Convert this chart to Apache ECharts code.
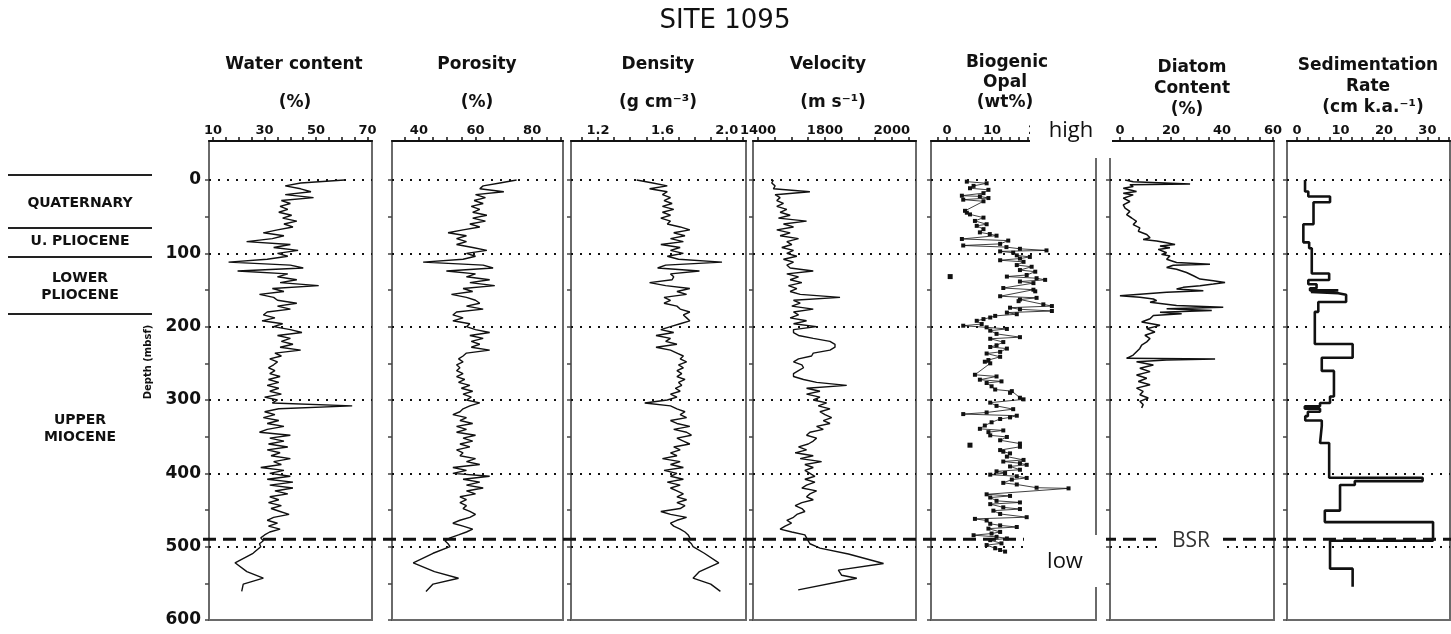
<!DOCTYPE html>
<html>
<head>
<meta charset="utf-8">
<script src="https://cdn.jsdelivr.net/npm/echarts@6/dist/echarts.min.js"></script>
<style>
  html, body { margin: 0; padding: 0; background: #fff; }
  #chart { width: 1451px; height: 634px; }
</style>
</head>
<body>
<div id="chart"></div>
<script>
// ---- Site 1095 downhole logs (depth in mbsf) ----

// sampling depths of the continuous physical-property logs
const coreDepth = [0,4,8,12,16,20,24,28,32,36,40,44,48,52,56,60,64,68,72,76,80,84,88,92,96,100,104,108,112,116,120,124,128,132,136,140,144,148,152,156,160,164,168,172,176,180,184,188,192,196,200,204,208,212,216,220,224,228,232,236,240,244,248,252,256,260,264,268,272,276,280,284,288,292,296,300,304,308,312,316,320,324,328,332,336,340,344,348,352,356,360,364,368,372,376,380,384,388,392,396,400,404,408,412,416,420,424,428,432,436,440,444,448,452,456,460,464,468,472,476,480,484,488,492,496,500];

// water content (%)
const waterContent = [61,44,38,44,48,38,49,36.5,40,36,
  39,35.5,40.5,37,42.5,37.5,41,35,29.5,37.5,
  33,23,40,33.5,43,35,39,31,16,40,
  45,19.5,39,35,42.5,36,51,33,37.5,28,
  33.5,35,42.5,35,40,31,29.5,34,29,37,
  33.5,40,44.5,35,40,36.5,41,36,44,34,
  36.5,32,35,33.5,31.5,34,32,36,31.5,35.5,
  31,35.5,32,36.5,30,35,33,64,35.5,30,
  34,29.5,35.5,31,37.5,31,28,40,32,37.5,
  31.5,39,31,36,32.5,40,33.5,36.5,28.5,37.5,
  32,40,31,41,32,41,34,39,32,35.5,
  31.5,36.5,32.5,36,39.5,33.5,31,35,31.5,36,
  32,30,28.5,29.5,28,28.5];

// porosity (%)
const porosity = [74.5,68.6,62.7,61.5,70,60,63.5,59.5,62.7,58.5,
  61.5,59,64,59,63.5,58,61.5,55.6,50.3,56.8,
  53.3,56.8,53.3,59,64,56.8,60,55.6,41.5,62.7,
  66.2,49.7,60,56.8,65,58,66.8,55.6,59,51.5,
  56.8,60,61.5,56.8,62.7,53.3,52,55.6,52,58,
  56.8,60,65,58,62.7,58.5,61.5,58.5,65,56.8,
  55.6,54,55.6,53.3,54.5,53.3,55.6,53.3,56.2,54,
  58,55,59,55.6,58.5,56.8,61.5,58,55.6,54.5,
  52,56.8,54.5,59,53.3,56.8,53.3,60,55.6,59,
  54.5,58,53.3,55.6,54.5,60,56.8,61.5,52,56.8,
  52,65,55.6,61.5,56.8,62.7,56.8,60,54.5,56.8,
  54.5,56.8,55.6,58,60,58,54.5,52,55.6,59,
  56.8,54,51,49.2,50.3,51];

// bulk density (g cm-3)
const density = [1.44,1.54,1.63,1.52,1.63,1.60,1.65,1.61,1.66,1.60,
  1.67,1.60,1.65,1.59,1.65,1.63,1.71,1.77,1.67,1.74,
  1.65,1.73,1.59,1.71,1.65,1.73,1.63,1.70,1.97,1.62,
  1.57,1.83,1.65,1.67,1.66,1.52,1.62,1.77,1.69,1.75,
  1.61,1.65,1.61,1.69,1.71,1.77,1.73,1.75,1.77,1.71,
  1.65,1.59,1.67,1.56,1.65,1.62,1.69,1.56,1.65,1.69,
  1.73,1.71,1.75,1.70,1.73,1.69,1.72,1.69,1.74,1.70,
  1.72,1.68,1.71,1.65,1.69,1.63,1.49,1.65,1.69,1.74,
  1.71,1.75,1.65,1.69,1.77,1.67,1.75,1.78,1.69,1.73,
  1.77,1.67,1.71,1.65,1.69,1.60,1.71,1.65,1.73,1.61,
  1.69,1.65,1.73,1.63,1.71,1.65,1.69,1.73,1.69,1.75,
  1.69,1.74,1.71,1.59,1.65,1.75,1.69,1.65,1.67,1.71,
  1.74,1.76,1.77,1.76,1.78,1.79];

// P-wave velocity (m s-1)
const velocity = [1646,1641,1651,1646,1755,1651,1666,1656,1676,1656,
  1686,1666,1696,1661,1745,1676,1706,1656,1696,1666,
  1721,1686,1701,1671,1706,1686,1716,1676,1706,1686,
  1696,1765,1686,1721,1696,1731,1691,1716,1696,1726,
  1845,1706,1726,1701,1765,1706,1721,1696,1745,1706,
  1775,1706,1706,1721,1765,1815,1830,1830,1815,1765,
  1760,1721,1706,1731,1736,1721,1706,1706,1736,1775,
  1865,1745,1785,1745,1785,1765,1805,1780,1815,1785,
  1800,1820,1795,1815,1775,1795,1755,1745,1775,1765,
  1750,1721,1745,1711,1765,1726,1790,1740,1765,1740,
  1755,1770,1740,1770,1745,1731,1775,1755,1745,1765,
  1731,1711,1731,1740,1716,1706,1686,1700,1681,1666,
  1701,1740,1745,1750,1755,1775];

// deeper, sparser measurements below 500 mbsf
const deepDepth = [509,522,534,543,551,561];
const waterDeep = [25.5,18.5,23.1,29.5,21.7,21.1];
const porosityDeep = [45,38,45.5,54,45,42.5];
const densityDeep = [1.86,1.95,1.83,1.79,1.90,1.96];
const velocityDeepDepth = [502,510,523,532,539,543,559];
const velocityDeep = [1785,1870,1975,1840,1850,1895,1720];

// biogenic opal (wt%)
const opalDepth = [2.2,4.5,8,11.2,13.4,17.9,21.4,22.3,24.6,26.8,29,
  42,44.6,46.9,51.3,55.8,60.3,62.5,67,71.4,73.7,75.9,80.4,82.6,87.1,89.3,91.5,93.8,96,97.3,99.1,102.7,104.9,107.1,
  109.4,111.6,116,118.3,122.8,125,129.5,131.7,133.9,136.2,138.4,140.6,
  147.3,149.6,151.8,158.5,160.7,162.9,165.2,169.6,171.9,174.1,176.3,178.6,180.8,183,185.3,187.5,189.7,192,196.4,198.7,200.9,203.1,205.4,209.8,214.3,216.5,221,225.4,227.7,229.9,234.4,236.6,241.1,245.5,247.8,250,
  265.6,267.9,272.3,274.6,276.8,281.3,285.7,287.9,290.2,296.9,299.1,303.6,308,312.5,317,319.2,321.4,323.7,325.9,330.4,334.8,339.3,341.5,343.8,348.2,350.4,354.9,359.4,363.8,
  368.3,370.5,372.8,377.2,381.7,383.9,386.2,388.4,390.6,395.1,397.3,399.6,401.8,404,406.3,408.5,413,415.2,419.6,420.5,428.6,430.8,433,437.5,439.7,442,446.4,448.7,450.9,455.4,459.8,462.1,464.3,468.8,471,473.2,475.4,479.9,482.1,484.4,486.6,488.8,491.1,495.5,497.8,502.2,504.5,506.7];
const opalValue = [4.4,8.8,5.9,5.1,9.2,8.1,3.3,7.3,9.2,3.6,8.1,
  4.0,4.4,5.1,8.1,6.2,8.8,6.6,8.1,7.3,9.5,11,3.3,13.6,11.8,3.6,13.2,16.2,22.1,11.8,14.7,15.5,18.4,16.2,
  11.8,17,15.5,18.8,16.2,19.6,17.7,13.3,19.9,21.8,16.2,19.2,
  12.5,19.2,19.6,11.8,19.9,16.2,15.9,21.4,23.3,14,16.2,23.3,13.3,15.5,10.7,9.6,8.1,6.6,7.7,3.6,8.8,13.3,9.6,11,16.2,9.6,12.5,11,9.6,13.3,11.8,8.8,11.8,9.2,8.4,9.6,
  6.2,11,7.3,12.1,8.8,9.9,10.7,14.4,14,16.2,17,9.6,11,14.7,8.8,3.6,15.5,14,11.8,9.9,8.4,7.3,12.5,9.2,9.6,13.3,11.8,16.2,16.2,
  11.8,12.5,14,13.3,17,12.5,16.2,17.7,14,16.2,11,12.9,9.6,15.5,17.7,14.4,12.5,15.5,19.9,27,8.8,14,9.6,11,16.2,9.6,12.5,16.2,10.3,11.8,17.7,6.2,8.8,9.6,11.8,15.5,9.2,11.8,9.9,5.9,11,13.3,9.6,12.1,8.8,10.7,11.8,12.9];
const opalSingleDepth = [131.7,361.6];
const opalSingleValue = [0.7,5.1];

// diatom content (%)
const diatomDepth = [0,2.3,5.4,6.3,9,11.3,15.8,18,20.3,24.8,29.3,33.8,38.3,42.8,47.3,51.8,56.3,60.8,65.3,69.8,74.3,78.8,81.1,83.3,85.6,87.8,90.1,92.3,94.6,99.1,101.4,103.6,108.1,112.6,114.9,116.2,119.4,121.6,126.1,130.6,135.1,137.4,139.6,141.9,144.1,146.4,148.6,150.9,153.2,157.7,159.9,162.2,164.4,166.7,171.2,173.4,175.7,177.9,180.2,182.4,184.7,189.2,193.7,198.2,202.7,207.2,211.7,216.2,220.7,225.2,229.7,234.2,238.7,243.2,244.1,245.5,247.7,252.3,256.8,261.3,265.8,270.3,274.8,279.3,283.8,288.3,292.8,297.3,301.8,306.3,310.8];
const diatomValue = [2,5.2,27.5,3.9,5.2,1.3,6.5,1.3,5.2,1.3,3.9,1.3,2,3.9,2.6,4.6,6.5,5.2,7.8,7.2,10.5,11.8,9.1,14.4,18.3,21.6,15.7,19.6,15,18.3,16.3,19.6,18.3,22.2,35.3,20.9,18.3,22.2,26.1,28.8,31.4,36.6,41.2,36.6,31.4,24.8,22.2,32.7,18.3,0,7.8,13.1,14.4,11.8,22.2,40.5,18.3,36,15.7,24.2,13.1,11.8,8.5,15.7,10.5,13.7,9.8,11.8,10.5,8.5,7.8,6.5,5.2,2.6,37.3,18.3,6.5,13.1,7.8,11.8,6.5,10.5,7.2,11.8,6.5,9.1,7.8,11.1,7.8,9.1,8.5];

// sedimentation rate (cm k.a.-1): interval boundaries and rate within each interval
const sedBounds = [0,15.7,22.4,30.4,60.4,85,93,127.5,136.4,142.2,147.6,150.5,152.5,154.5,156.5,166.4,179.8,223.6,242.4,260.3,295.2,304.1,308.6,312,316,322,328,335.4,358.7,406.1,410.6,415.9,450.8,466.5,492,530,554.6];
const sedRate = [1.85,2.6,7.6,3.8,1.46,2.8,3.4,7.4,2.6,4.5,3.0,9.5,3.2,9.5,11.3,4.9,4.1,12.8,5.7,8.5,7.6,5.3,1.8,5.3,2.5,1.9,5.7,5.3,7.4,28.9,13.3,9.9,6.4,31.3,7.6,12.8];

// stratigraphic column
const stratBounds = [-6.8,65.5,105,182.7];
const stratNames = ['QUATERNARY','U. PLIOCENE','LOWER\nPLIOCENE','UPPER\nMIOCENE'];
const stratLabelDepth = [31.4,83.2,146,339];

// depth axis, reference levels and the bottom-simulating reflector
const depthTicks = [0,50,100,150,200,250,300,350,400,450,500,550,600];
const depthLabels = [0,100,200,300,400,500,600];
const depthLines = [0,100,200,300,400,500];
const bsrDepth = 490;

// top-axis ticks and labels of each log
const waterTickValues = [10,15,20,25,30,35,40,45,50,55,60,65,70];
const waterLabelValues = [10,30,50,70];
const porosityTickValues = [35,40,45,50,55,60,65,70,75,80,85,90];
const porosityLabelValues = [40,60,80];
const densityTickValues = [1.1,1.2,1.3,1.4,1.5,1.6,1.7,1.8,1.9,2.0,2.1];
const densityLabelValues = [1.2,1.6,2.0];
const velocityTickValues = [1600,1650,1700,1750,1800,1850,1900,1950,2000,2050];
const velocityLabelValues = [1600,1800,2000];
const velocityLabelText = ['1400','1800','2000'];
const opalTickValues = [-2,0,2,4,6,8,10,12,14,16,18,20,22,24,26,28,30,32];
const opalLabelValues = [0,10,20];
const diatomTickValues = [0,5,10,15,20,25,30,35,40,45,50,55,60];
const diatomLabelValues = [0,20,40,60];
const sedTickValues = [0,2.5,5,7.5,10,12.5,15,17.5,20,22.5,25,27.5,30,32.5,35];
const sedLabelValues = [0,10,20,30];

// ---------------------------------------------------------------
const INK = '#111';
const FRAME = '#6a6a6a';
const BOLD = { fontFamily: 'DejaVu Sans', fontWeight: 'bold', color: INK };
const TOP = 141, HEIGHT = 479;
const DEPTH_MIN = -53.2, DEPTH_MAX = 600;

const panels = [
  { left: 209, width: 163, min: 8.4, max: 71.7, ticks: waterTickValues, labels: waterLabelValues, fmt: v => String(v) },
  { left: 392, width: 171, min: 30.5, max: 90.9, ticks: porosityTickValues, labels: porosityLabelValues, fmt: v => String(v) },
  { left: 571, width: 175, min: 1.032, max: 2.119, ticks: densityTickValues, labels: densityLabelValues, fmt: v => v.toFixed(1) },
  { left: 753, width: 163, min: 1585, max: 2072, ticks: velocityTickValues, labels: velocityLabelValues,
    fmt: v => velocityLabelText[velocityLabelValues.indexOf(v)] || '' },
  { left: 931, width: 165, min: -3.56, max: 33.1, ticks: opalTickValues, labels: opalLabelValues, fmt: v => String(v) },
  { left: 1110, width: 164, min: -3.9, max: 60.4, ticks: diatomTickValues, labels: diatomLabelValues, fmt: v => String(v) },
  { left: 1287, width: 163, min: -2.3, max: 35.2, ticks: sedTickValues, labels: sedLabelValues, fmt: v => String(v) }
];

const grid = panels.map(p => ({
  left: p.left, top: TOP, width: p.width, height: HEIGHT,
  show: true, borderColor: FRAME, borderWidth: 2, containLabel: false
}));
grid.push({ left: 8, top: TOP, width: 144, height: HEIGHT, show: false });

const xAxis = panels.map((p, i) => ({
  gridIndex: i, type: 'value', position: 'top', min: p.min, max: p.max,
  axisLine: { show: true, onZero: false, lineStyle: { color: INK, width: 2 } },
  axisTick: { show: true, customValues: p.ticks, length: 4, lineStyle: { color: INK, width: 1.5 } },
  axisLabel: Object.assign({ customValues: p.labels, formatter: p.fmt, fontSize: 13, margin: 4 }, BOLD),
  splitLine: { show: false }
}));
xAxis.push({ gridIndex: 7, type: 'value', min: 0, max: 1, show: false });

const yAxis = panels.map((p, i) => ({
  gridIndex: i, type: 'value', inverse: true, min: DEPTH_MIN, max: DEPTH_MAX,
  axisLine: { show: true, onZero: false, lineStyle: { color: FRAME, width: 2 } },
  axisTick: { show: true, customValues: depthTicks, length: 4, lineStyle: { color: '#444', width: 1.5 } },
  axisLabel: Object.assign({ show: i === 0, customValues: depthLabels, fontSize: 17, margin: 8 }, BOLD),
  splitLine: { show: false }
}));
yAxis.push({ gridIndex: 7, type: 'value', inverse: true, min: DEPTH_MIN, max: DEPTH_MAX, show: false });

const dotted = {
  silent: true, symbol: 'none', animation: false,
  label: { show: false },
  lineStyle: { type: [2, 7], color: INK, width: 2 },
  emphasis: { disabled: true },
  data: depthLines.map(d => ({ yAxis: d }))
};

function pairs(values, depths) {
  return depths.map((d, i) => [values[i], d]);
}

function logLine(i, data, width) {
  return {
    type: 'line', xAxisIndex: i, yAxisIndex: i, data,
    symbol: 'none', showSymbol: false, animation: false,
    lineStyle: { color: INK, width: width },
    emphasis: { disabled: true },
    markLine: dotted
  };
}

// sedimentation-rate staircase built from interval boundaries
const sedSteps = [];
sedRate.forEach((r, i) => {
  sedSteps.push([r, sedBounds[i]]);
  sedSteps.push([r, sedBounds[i + 1]]);
});

const series = [
  logLine(0, pairs(waterContent, coreDepth).concat(pairs(waterDeep, deepDepth)), 1.4),
  logLine(1, pairs(porosity, coreDepth).concat(pairs(porosityDeep, deepDepth)), 1.4),
  logLine(2, pairs(density, coreDepth).concat(pairs(densityDeep, deepDepth)), 1.4),
  logLine(3, pairs(velocity, coreDepth).concat(pairs(velocityDeep, velocityDeepDepth)), 1.4),
  Object.assign(logLine(4, pairs(opalValue, opalDepth), 0.8), {
    symbol: 'rect', symbolSize: 4, showSymbol: true, itemStyle: { color: INK, opacity: 1 }
  }),
  {
    type: 'scatter', xAxisIndex: 4, yAxisIndex: 4, data: pairs(opalSingleValue, opalSingleDepth),
    symbol: 'rect', symbolSize: 5, itemStyle: { color: INK, opacity: 1 }, animation: false
  },
  logLine(5, pairs(diatomValue, diatomDepth), 1.5),
  logLine(6, sedSteps, 2.6),
  {
    type: 'scatter', xAxisIndex: 7, yAxisIndex: 7, symbolSize: 0, animation: false, silent: true,
    itemStyle: { opacity: 1, color: INK },
    data: stratLabelDepth.map((d, i) => ({ value: [0.5, d], name: stratNames[i] })),
    label: Object.assign({
      show: true, position: 'inside', formatter: p => p.name,
      fontSize: 14, lineHeight: 17, align: 'center', verticalAlign: 'middle'
    }, BOLD),
    markLine: {
      silent: true, symbol: 'none', animation: false, label: { show: false },
      lineStyle: { type: 'solid', color: '#222', width: 2 },
      data: stratBounds.map(d => ({ yAxis: d }))
    }
  }
];

const chart = echarts.init(document.getElementById('chart'), null, { renderer: 'canvas' });
chart.setOption({ backgroundColor: '#fff', animation: false, grid, xAxis, yAxis, series });

// ---- text headers and annotations ----
function txt(text, x, y, size, weight, family, fill) {
  return {
    type: 'text', z: 120,
    style: {
      text, x, y, fill: fill || INK, align: 'center', verticalAlign: 'middle',
      fontSize: size, fontWeight: weight || 'bold', fontFamily: family || 'DejaVu Sans'
    }
  };
}

const yBsr = chart.convertToPixel({ yAxisIndex: 0 }, bsrDepth);

const graphic = [
  txt('SITE 1095', 725, 21, 26, 'normal'),
  txt('Water content', 294, 65, 17), txt('(%)', 295, 103, 17),
  txt('Porosity', 477, 65, 17), txt('(%)', 477, 103, 17),
  txt('Density', 658, 65, 17), txt('(g cm\u207B\u00B3)', 658, 103, 17),
  txt('Velocity', 828, 65, 17), txt('(m s\u207B\u00B9)', 833, 103, 17),
  txt('Biogenic', 1007, 63, 17), txt('Opal', 1005, 83, 17), txt('(wt%)', 1005, 103, 17),
  txt('Diatom', 1192, 68, 17), txt('Content', 1192, 89, 17), txt('(%)', 1187, 110, 17),
  txt('Sedimentation', 1368, 66, 17), txt('Rate', 1368, 87, 17), txt('(cm k.a.\u207B\u00B9)', 1373, 108, 17),
  {
    type: 'text', z: 120, rotation: Math.PI / 2, x: 148, y: 362,
    style: { text: 'Depth (mbsf)', fill: INK, align: 'center', verticalAlign: 'middle',
      fontSize: 10, fontWeight: 'bold', fontFamily: 'DejaVu Sans' }
  },
  // bottom-simulating reflector
  {
    type: 'line', z: 110, silent: true,
    shape: { x1: 203, y1: yBsr, x2: 1451, y2: yBsr },
    style: { stroke: INK, lineWidth: 3, lineDash: [13, 7] }
  },
  // labelled blank-outs
  { type: 'rect', z: 115, shape: { x: 1030, y: 94, width: 82, height: 64 }, style: { fill: '#fff' } },
  { type: 'rect', z: 115, shape: { x: 1024, y: 535, width: 82, height: 52 }, style: { fill: '#fff' } },
  { type: 'rect', z: 115, shape: { x: 1160, y: yBsr - 13, width: 62, height: 26 }, style: { fill: '#fff' } },
  txt('high', 1071, 131, 22, 'normal', 'Open Sans'),
  txt('low', 1065, 562, 22, 'normal', 'Open Sans'),
  txt('BSR', 1191, yBsr + 2, 21, 'normal', 'Open Sans', '#333')
];

chart.setOption({ graphic });
</script>
</body>
</html>
